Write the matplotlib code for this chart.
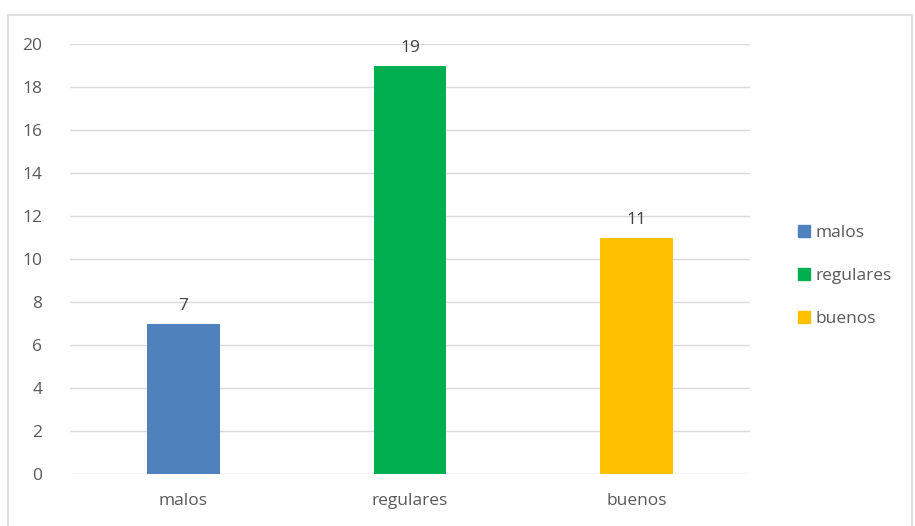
import matplotlib.pyplot as plt
import matplotlib.patches as mpatches
from matplotlib.ticker import MultipleLocator

# Datos del gráfico
categorias = ['malos', 'regulares', 'buenos']
valores = [7, 19, 11]
colores = ['#4F81BD', '#00B050', '#FFC000']

plt.rcParams['font.family'] = ['Open Sans', 'DejaVu Sans']
gris_texto = '#595959'
tam = 12.5

fig = plt.figure(figsize=(9.15, 5.26), dpi=100)
ax = fig.add_axes([70/915, 1 - 474/526, 680/915, 430/526])

x = range(len(categorias))
barras = ax.bar(x, valores, width=0.32, color=colores, zorder=3)

# Etiquetas de valor sobre cada barra
for xi, v in zip(x, valores):
    ax.text(xi, v + 0.45, str(v), ha='center', va='bottom', fontsize=tam, color='#404040')

ax.set_xlim(-0.5, len(categorias) - 0.5)
ax.set_ylim(0, 20)
ax.yaxis.set_major_locator(MultipleLocator(2))
ax.grid(axis='y', color='#D9D9D9', linewidth=1, zorder=0)
for s in ax.spines.values():
    s.set_visible(False)
ax.set_xticks(list(x))
ax.set_xticklabels(categorias)
ax.tick_params(axis='both', length=0, labelsize=tam, labelcolor=gris_texto)
ax.tick_params(axis='y', pad=20)
ax.tick_params(axis='x', pad=14)

# Leyenda a la derecha
handles = [mpatches.Patch(color=c, label=l) for c, l in zip(colores, categorias)]
fig.legend(handles=handles, loc='center left', bbox_to_anchor=(782/915, 1 - 276/526),
           frameon=False, fontsize=tam, labelcolor=gris_texto, handlelength=0.7,
           handleheight=0.7, handletextpad=0.35, labelspacing=1.55)

# Marco gris del gráfico
fig.patches.append(mpatches.Rectangle((8/915, -0.01), 904/915, 1 - 15/526 + 0.01,
                                      transform=fig.transFigure, fill=False,
                                      edgecolor='#D9D9D9', linewidth=1.2))

plt.savefig('out.png', dpi=100)
